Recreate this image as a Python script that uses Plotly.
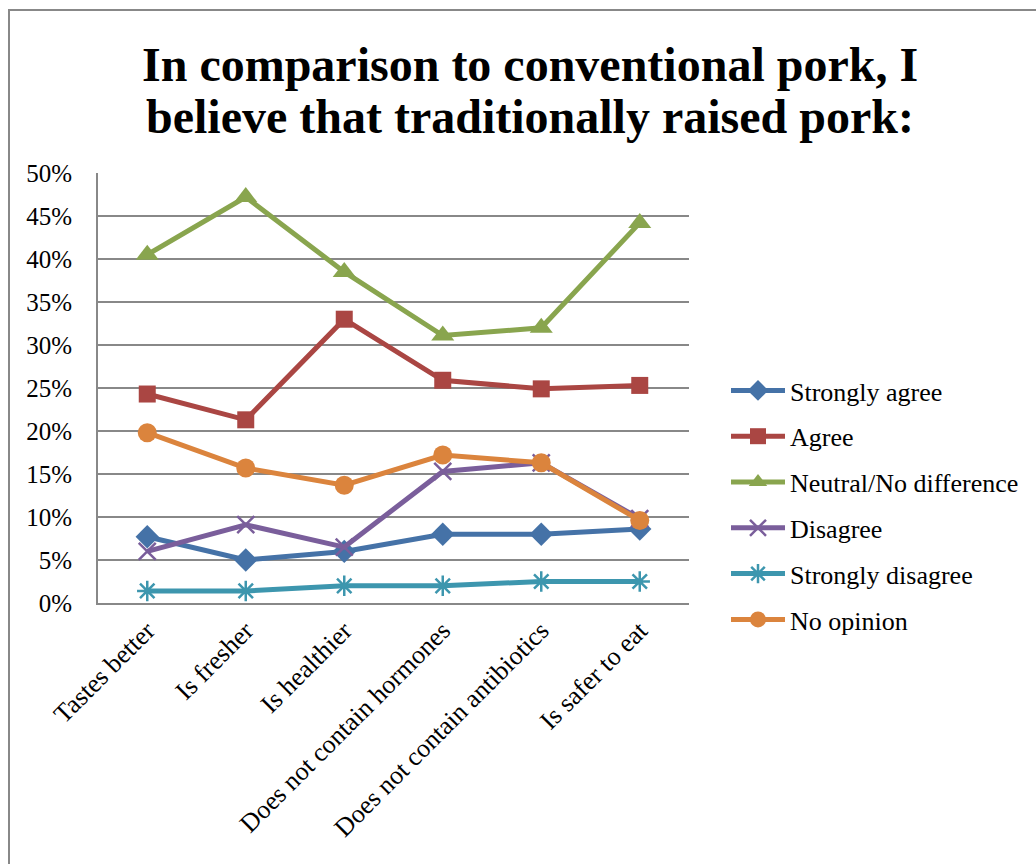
import plotly.graph_objects as go

categories = ["Tastes better", "Is fresher", "Is healthier", "Does not contain hormones",
              "Does not contain antibiotics", "Is safer to eat"]
strongly_agree = [0.077, 0.050, 0.060, 0.080, 0.080, 0.086]
agree = [0.243, 0.213, 0.330, 0.259, 0.249, 0.253]
neutral = [0.405, 0.472, 0.385, 0.311, 0.320, 0.442]
disagree = [0.060, 0.091, 0.065, 0.153, 0.163, 0.098]
strongly_disagree = [0.014, 0.014, 0.020, 0.020, 0.025, 0.025]
no_opinion = [0.198, 0.157, 0.137, 0.172, 0.163, 0.096]
title_lines = ["In comparison to conventional pork, I",
               "believe that traditionally raised pork:"]

series = [
    ("Strongly agree", strongly_agree, "#4572A7", "diamond", 18, 0),
    ("Agree", agree, "#AA4643", "square", 17, 0),
    ("Neutral/No difference", neutral, "#89A54E", "triangle-up", 20, 0),
    ("Disagree", disagree, "#7A5E9B", "x-thin-open", 17, 2.5),
    ("Strongly disagree", strongly_disagree, "#3D96AE", "asterisk-open", 17, 2.5),
    ("No opinion", no_opinion, "#DB843D", "circle", 19, 0),
]

fig = go.Figure()
for i, (name, vals, color, sym, size, lw) in enumerate(series):
    marker = dict(symbol=sym, size=size, color=color)
    if lw:
        marker["line"] = dict(color=color, width=lw)
    fig.add_trace(go.Scatter(
        x=categories, y=vals, name=name, mode="lines+markers",
        line=dict(color=color, width=5), marker=marker,
        legendgroup=f"g{i}",
    ))

font_family = "Liberation Serif, Times New Roman, serif"

fig.update_layout(
    width=1036, height=864,
    paper_bgcolor="white", plot_bgcolor="white",
    margin=dict(l=98, r=347, t=173, b=261),
    font=dict(family=font_family, color="black", size=26),
    legend=dict(
        x=(726 - 98) / 591, xanchor="left",
        y=(603 - 505) / 430, yanchor="middle",
        font=dict(family=font_family, size=26, color="black"),
        tracegroupgap=9, itemwidth=54, bgcolor="rgba(0,0,0,0)",
    ),
    showlegend=True,
)
for line, py in zip(title_lines, [64, 117]):
    fig.add_annotation(
        text=f"<b>{line}</b>", xref="paper", yref="paper",
        x=(530 - 98) / 591, xanchor="center",
        y=(603 - py) / 430, yanchor="middle", showarrow=False,
        font=dict(family=font_family, size=48, color="black"),
    )
fig.update_xaxes(
    type="category", tickangle=-45, showgrid=False,
    showline=True, linecolor="#888888", linewidth=2,
    tickfont=dict(family=font_family, size=26, color="black"),
    ticks="", range=[-0.5, 5.5],
)
fig.update_yaxes(
    range=[0, 0.5], dtick=0.05, tickformat=".0%",
    showgrid=True, gridcolor="#888888", gridwidth=2,
    showline=True, linecolor="#888888", linewidth=2,
    zeroline=False, ticks="", ticklabelstandoff=19,
    tickfont=dict(family=font_family, size=25, color="black"),
)
# chart outer border
fig.add_shape(type="rect", xref="paper", yref="paper",
              x0=(9 - 98) / 591, x1=(1045 - 98) / 591,
              y0=(603 - 875) / 430, y1=(603 - 10) / 430,
              line=dict(color="#888888", width=2), layer="below")

fig.write_html("out.html")
